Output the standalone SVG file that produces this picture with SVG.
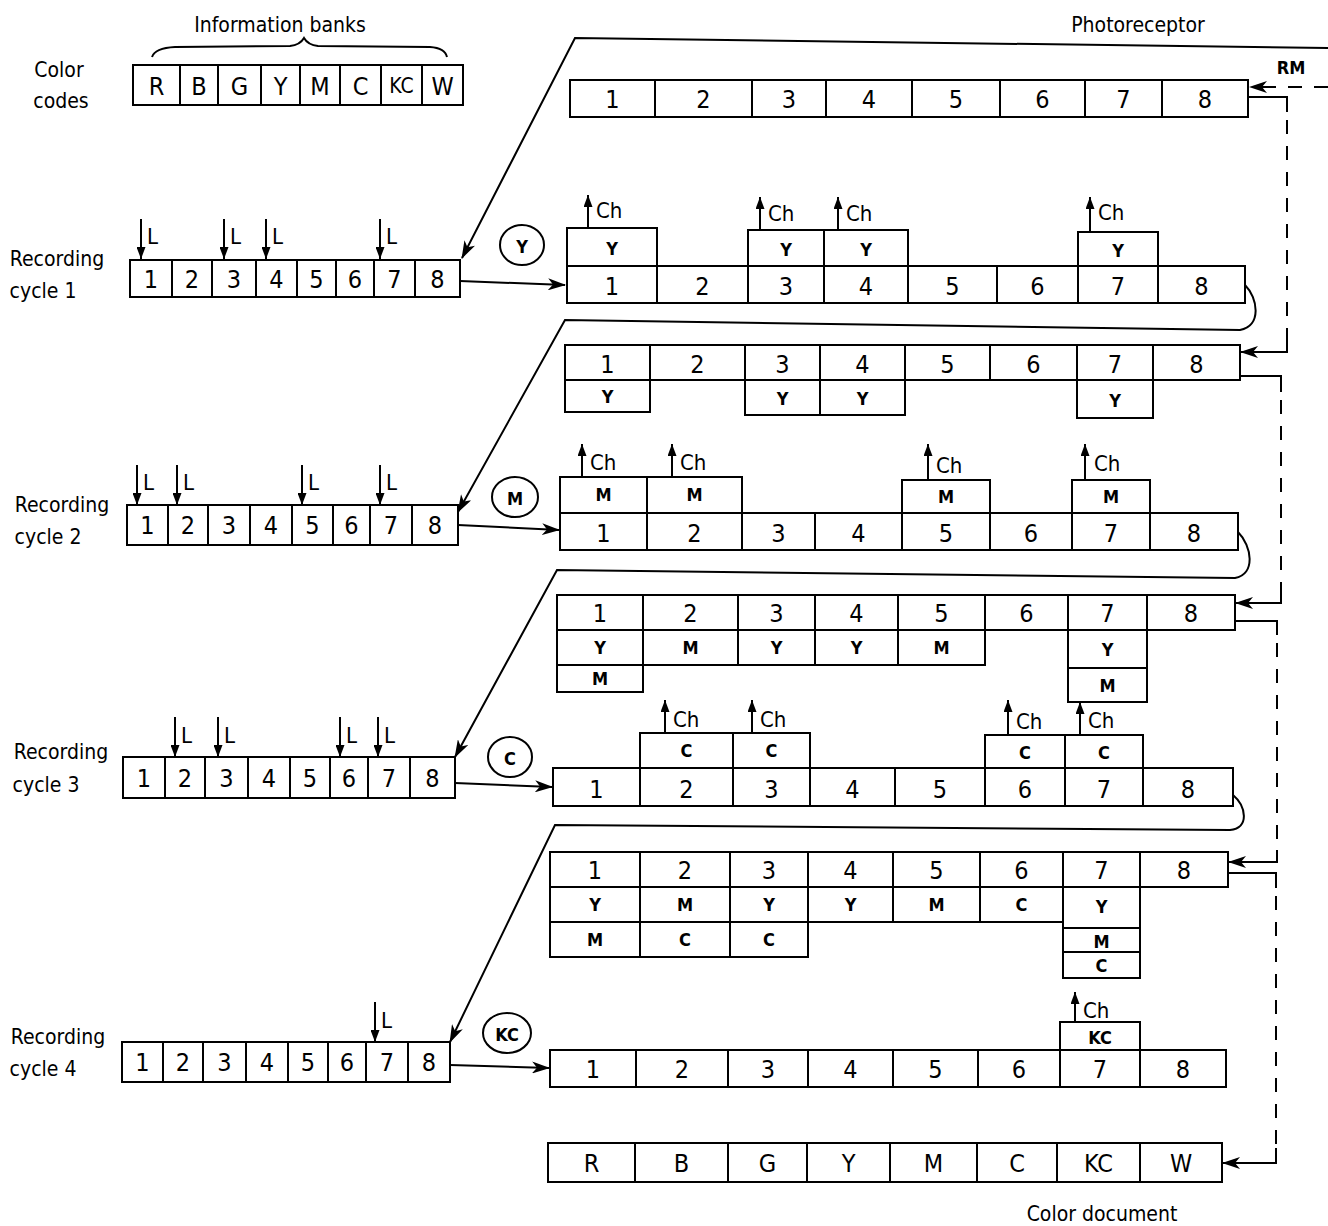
<svg xmlns="http://www.w3.org/2000/svg" width="1328" height="1226" viewBox="0 0 1328 1226">
<defs>
<style>
.b{fill:#fff;stroke:#000;stroke-width:2}
.dv{stroke:#000;stroke-width:2;fill:none}
.ln{stroke:#000;stroke-width:2;fill:none}
.dash{stroke:#000;stroke-width:2;fill:none;stroke-dasharray:14 12}
text{font-family:"DejaVu Sans Condensed","DejaVu Sans","Liberation Sans",sans-serif;font-stretch:condensed;fill:#000}
.n{font-size:25px;text-anchor:middle;dominant-baseline:central}
.s{font-size:18px;font-weight:bold;text-anchor:middle;dominant-baseline:central}
.lab{font-size:21px;text-anchor:middle}
.tag{font-size:22px;dominant-baseline:central}
.c{font-size:18px;font-weight:bold;text-anchor:middle;dominant-baseline:central}
.circ{fill:#fff;stroke:#000;stroke-width:2}
</style>
<marker id="ah" viewBox="0 0 18 12" refX="17" refY="6" markerWidth="18" markerHeight="12" markerUnits="userSpaceOnUse" orient="auto"><path d="M0,0 L18,6 L0,12 L5,6 z" fill="#000"/></marker>
<marker id="sm" viewBox="0 0 12 9" refX="12" refY="4.5" markerWidth="12" markerHeight="9" markerUnits="userSpaceOnUse" orient="auto"><path d="M0,0 L12,4.5 L0,9 z" fill="#000"/></marker>
</defs>
<rect width="1328" height="1226" fill="#fff"/>

<!-- Header labels -->
<g id="labels">
<text class="lab" x="280" y="32">Information banks</text>
<text class="lab" x="59" y="77">Color</text>
<text class="lab" x="61" y="108">codes</text>
<text class="lab" x="1138" y="32">Photoreceptor</text>
<text class="lab" x="1102" y="1221">Color document</text>
<text x="1291" y="74" style="font-size:18px;font-weight:bold;text-anchor:middle">RM</text>
<text class="lab" x="57" y="266">Recording</text>
<text class="lab" x="43" y="298">cycle 1</text>
<text class="lab" x="62" y="512">Recording</text>
<text class="lab" x="48" y="544">cycle 2</text>
<text class="lab" x="61" y="759">Recording</text>
<text class="lab" x="46" y="792">cycle 3</text>
<text class="lab" x="58" y="1044">Recording</text>
<text class="lab" x="43" y="1076">cycle 4</text>
</g>

<!-- Color codes bank -->
<g id="color-codes">
<path class="ln" d="M152,57 Q155,48 175,47 L290,46 Q300,45 304,38 Q308,45 318,46 L430,47 Q445,48 447,57"/>
<rect class="b" x="133" y="65" width="330" height="40"/>
<path class="dv" d="M180,65V105M218,65V105M261,65V105M300,65V105M340,65V105M381,65V105M422,65V105"/>
<text class="n" x="156.5" y="86">R</text><text class="n" x="199" y="86">B</text><text class="n" x="239.5" y="86">G</text><text class="n" x="280.5" y="86">Y</text><text class="n" x="320" y="86">M</text><text class="n" x="360.5" y="86">C</text><text class="n" x="401.5" y="86" style="font-size:21px">KC</text><text class="n" x="442.5" y="86">W</text>
</g>

<!-- Photoreceptor row -->
<g id="photoreceptor-row">
<rect class="b" x="570" y="80" width="678" height="37"/>
<path class="dv" d="M655,80V117M752,80V117M826,80V117M912,80V117M1000,80V117M1085,80V117M1162,80V117"/>
<text class="n" x="612.5" y="99">1</text><text class="n" x="703.5" y="99">2</text><text class="n" x="789" y="99">3</text><text class="n" x="869" y="99">4</text><text class="n" x="956" y="99">5</text><text class="n" x="1042.5" y="99">6</text><text class="n" x="1123.5" y="99">7</text><text class="n" x="1205" y="99">8</text>
</g>

<!-- Cycle 1 bank -->
<g id="bank-1">
<rect class="b" x="130" y="260" width="330" height="37"/>
<path class="dv" d="M172,260V297M212,260V297M256,260V297M297,260V297M336,260V297M374,260V297M415,260V297"/>
<text class="n" x="151" y="279">1</text><text class="n" x="192" y="279">2</text><text class="n" x="234" y="279">3</text><text class="n" x="276.5" y="279">4</text><text class="n" x="316.5" y="279">5</text><text class="n" x="355" y="279">6</text><text class="n" x="394.5" y="279">7</text><text class="n" x="437.5" y="279">8</text>
<path class="ln" marker-end="url(#sm)" d="M141,219V259"/><path class="ln" marker-end="url(#sm)" d="M224,219V259"/><path class="ln" marker-end="url(#sm)" d="M266,219V259"/><path class="ln" marker-end="url(#sm)" d="M380,219V259"/>
<text class="tag" x="147" y="236">L</text><text class="tag" x="230" y="236">L</text><text class="tag" x="272" y="236">L</text><text class="tag" x="386" y="236">L</text>
</g>
<g id="circle-Y"><ellipse class="circ" cx="522" cy="245" rx="22" ry="20"/><text class="c" x="522" y="246">Y</text></g>

<!-- Row 1b -->
<g id="row-1b">
<rect class="b" x="567" y="266" width="678" height="37"/>
<path class="dv" d="M657,266V303M748,266V303M824,266V303M908,266V303M997,266V303M1078,266V303M1158,266V303"/>
<text class="n" x="612" y="286">1</text><text class="n" x="702.5" y="286">2</text><text class="n" x="786" y="286">3</text><text class="n" x="866" y="286">4</text><text class="n" x="952.5" y="286">5</text><text class="n" x="1037.5" y="286">6</text><text class="n" x="1118" y="286">7</text><text class="n" x="1201.5" y="286">8</text>
<rect class="b" x="567" y="228" width="90" height="38"/><rect class="b" x="748" y="230" width="76" height="36"/><rect class="b" x="824" y="230" width="84" height="36"/><rect class="b" x="1078" y="232" width="80" height="34"/>
<text class="s" x="612" y="248">Y</text><text class="s" x="786" y="249">Y</text><text class="s" x="866" y="249">Y</text><text class="s" x="1118" y="250">Y</text>
<path class="ln" marker-end="url(#sm)" d="M588,228V195"/><path class="ln" marker-end="url(#sm)" d="M760,230V197"/><path class="ln" marker-end="url(#sm)" d="M838,230V197"/><path class="ln" marker-end="url(#sm)" d="M1090,232V197"/>
<text class="tag" x="596" y="210">Ch</text><text class="tag" x="768" y="213">Ch</text><text class="tag" x="846" y="213">Ch</text><text class="tag" x="1098" y="212">Ch</text>
</g>

<!-- Row 2a -->
<g id="row-2a">
<rect class="b" x="565" y="345" width="675" height="35"/>
<path class="dv" d="M650,345V380M745,345V380M820,345V380M905,345V380M990,345V380M1077,345V380M1153,345V380"/>
<text class="n" x="607.5" y="364">1</text><text class="n" x="697.5" y="364">2</text><text class="n" x="782.5" y="364">3</text><text class="n" x="862.5" y="364">4</text><text class="n" x="947.5" y="364">5</text><text class="n" x="1033.5" y="364">6</text><text class="n" x="1115" y="364">7</text><text class="n" x="1196.5" y="364">8</text>
<rect class="b" x="565" y="380" width="85" height="32"/><rect class="b" x="745" y="380" width="75" height="35"/><rect class="b" x="820" y="380" width="85" height="35"/><rect class="b" x="1077" y="380" width="76" height="38"/>
<text class="s" x="607.5" y="396">Y</text><text class="s" x="782.5" y="398">Y</text><text class="s" x="862.5" y="398">Y</text><text class="s" x="1115" y="400">Y</text>
</g>

<!-- Cycle 2 bank -->
<g id="bank-2">
<rect class="b" x="127" y="505" width="331" height="40"/>
<path class="dv" d="M168,505V545M208,505V545M250,505V545M292,505V545M333,505V545M370,505V545M412,505V545"/>
<text class="n" x="147.5" y="525">1</text><text class="n" x="188" y="525">2</text><text class="n" x="229" y="525">3</text><text class="n" x="271" y="525">4</text><text class="n" x="312.5" y="525">5</text><text class="n" x="351.5" y="525">6</text><text class="n" x="391" y="525">7</text><text class="n" x="435" y="525">8</text>
<path class="ln" marker-end="url(#sm)" d="M137,465V505"/><path class="ln" marker-end="url(#sm)" d="M177,465V505"/><path class="ln" marker-end="url(#sm)" d="M302,465V505"/><path class="ln" marker-end="url(#sm)" d="M380,465V505"/>
<text class="tag" x="143" y="482">L</text><text class="tag" x="183" y="482">L</text><text class="tag" x="308" y="482">L</text><text class="tag" x="386" y="482">L</text>
</g>
<g id="circle-M"><ellipse class="circ" cx="515" cy="497" rx="23" ry="20"/><text class="c" x="515" y="498">M</text></g>

<!-- Row 2b -->
<g id="row-2b">
<rect class="b" x="560" y="513" width="678" height="37"/>
<path class="dv" d="M647,513V550M742,513V550M815,513V550M902,513V550M990,513V550M1072,513V550M1150,513V550"/>
<text class="n" x="603.5" y="533">1</text><text class="n" x="694.5" y="533">2</text><text class="n" x="778.5" y="533">3</text><text class="n" x="858.5" y="533">4</text><text class="n" x="946" y="533">5</text><text class="n" x="1031" y="533">6</text><text class="n" x="1111" y="533">7</text><text class="n" x="1194" y="533">8</text>
<rect class="b" x="560" y="477" width="87" height="36"/><rect class="b" x="647" y="477" width="95" height="36"/><rect class="b" x="902" y="480" width="88" height="33"/><rect class="b" x="1072" y="480" width="78" height="33"/>
<text class="s" x="603.5" y="494">M</text><text class="s" x="694.5" y="494">M</text><text class="s" x="946" y="496">M</text><text class="s" x="1111" y="496">M</text>
<path class="ln" marker-end="url(#sm)" d="M582,477V444"/><path class="ln" marker-end="url(#sm)" d="M672,477V444"/><path class="ln" marker-end="url(#sm)" d="M928,480V444"/><path class="ln" marker-end="url(#sm)" d="M1085,480V444"/>
<text class="tag" x="590" y="462">Ch</text><text class="tag" x="680" y="462">Ch</text><text class="tag" x="936" y="465">Ch</text><text class="tag" x="1094" y="463">Ch</text>
</g>

<!-- Row 3a -->
<g id="row-3a">
<rect class="b" x="557" y="595" width="678" height="35"/>
<path class="dv" d="M643,595V630M738,595V630M815,595V630M898,595V630M985,595V630M1068,595V630M1147,595V630"/>
<text class="n" x="600" y="613">1</text><text class="n" x="690.5" y="613">2</text><text class="n" x="776.5" y="613">3</text><text class="n" x="856.5" y="613">4</text><text class="n" x="941.5" y="613">5</text><text class="n" x="1026.5" y="613">6</text><text class="n" x="1107.5" y="613">7</text><text class="n" x="1191" y="613">8</text>
<rect class="b" x="557" y="630" width="86" height="35"/><rect class="b" x="643" y="630" width="95" height="35"/><rect class="b" x="738" y="630" width="77" height="35"/><rect class="b" x="815" y="630" width="83" height="35"/><rect class="b" x="898" y="630" width="87" height="35"/><rect class="b" x="1068" y="630" width="79" height="38"/>
<rect class="b" x="557" y="665" width="86" height="27"/><rect class="b" x="1068" y="668" width="79" height="34"/>
<text class="s" x="600" y="647">Y</text><text class="s" x="690.5" y="647">M</text><text class="s" x="776.5" y="647">Y</text><text class="s" x="856.5" y="647">Y</text><text class="s" x="941.5" y="647">M</text><text class="s" x="1107.5" y="649">Y</text>
<text class="s" x="600" y="678">M</text><text class="s" x="1107.5" y="685">M</text>
</g>

<!-- Cycle 3 bank -->
<g id="bank-3">
<rect class="b" x="123" y="757" width="332" height="41"/>
<path class="dv" d="M165,757V798M205,757V798M248,757V798M290,757V798M330,757V798M368,757V798M410,757V798"/>
<text class="n" x="144" y="778">1</text><text class="n" x="185" y="778">2</text><text class="n" x="226.5" y="778">3</text><text class="n" x="269" y="778">4</text><text class="n" x="310" y="778">5</text><text class="n" x="349" y="778">6</text><text class="n" x="389" y="778">7</text><text class="n" x="432.5" y="778">8</text>
<path class="ln" marker-end="url(#sm)" d="M175,717V757"/><path class="ln" marker-end="url(#sm)" d="M218,717V757"/><path class="ln" marker-end="url(#sm)" d="M340,717V757"/><path class="ln" marker-end="url(#sm)" d="M378,717V757"/>
<text class="tag" x="181" y="735">L</text><text class="tag" x="224" y="735">L</text><text class="tag" x="346" y="735">L</text><text class="tag" x="384" y="735">L</text>
</g>
<g id="circle-C"><ellipse class="circ" cx="510" cy="757" rx="22" ry="20"/><text class="c" x="510" y="758">C</text></g>

<!-- Row 3b -->
<g id="row-3b">
<rect class="b" x="553" y="768" width="680" height="38"/>
<path class="dv" d="M640,768V806M733,768V806M810,768V806M895,768V806M985,768V806M1065,768V806M1143,768V806"/>
<text class="n" x="596.5" y="789">1</text><text class="n" x="686.5" y="789">2</text><text class="n" x="771.5" y="789">3</text><text class="n" x="852.5" y="789">4</text><text class="n" x="940" y="789">5</text><text class="n" x="1025" y="789">6</text><text class="n" x="1104" y="789">7</text><text class="n" x="1188" y="789">8</text>
<rect class="b" x="640" y="733" width="93" height="35"/><rect class="b" x="733" y="733" width="77" height="35"/><rect class="b" x="985" y="735" width="80" height="33"/><rect class="b" x="1065" y="735" width="78" height="33"/>
<text class="s" x="686.5" y="750">C</text><text class="s" x="771.5" y="750">C</text><text class="s" x="1025" y="752">C</text><text class="s" x="1104" y="752">C</text>
<path class="ln" marker-end="url(#sm)" d="M665,733V700"/><path class="ln" marker-end="url(#sm)" d="M752,733V700"/><path class="ln" marker-end="url(#sm)" d="M1008,735V700"/><path class="ln" marker-end="url(#sm)" d="M1080,735V702"/>
<text class="tag" x="673" y="719">Ch</text><text class="tag" x="760" y="719">Ch</text><text class="tag" x="1016" y="721">Ch</text><text class="tag" x="1088" y="720">Ch</text>
</g>

<!-- Row 4a -->
<g id="row-4a">
<rect class="b" x="550" y="852" width="678" height="35"/>
<path class="dv" d="M640,852V887M730,852V887M808,852V887M893,852V887M980,852V887M1063,852V887M1140,852V887"/>
<text class="n" x="595" y="870">1</text><text class="n" x="685" y="870">2</text><text class="n" x="769" y="870">3</text><text class="n" x="850.5" y="870">4</text><text class="n" x="936.5" y="870">5</text><text class="n" x="1021.5" y="870">6</text><text class="n" x="1101.5" y="870">7</text><text class="n" x="1184" y="870">8</text>
<rect class="b" x="550" y="887" width="90" height="35"/><rect class="b" x="640" y="887" width="90" height="35"/><rect class="b" x="730" y="887" width="78" height="35"/><rect class="b" x="808" y="887" width="85" height="35"/><rect class="b" x="893" y="887" width="87" height="35"/><rect class="b" x="980" y="887" width="83" height="35"/><rect class="b" x="1063" y="887" width="77" height="41"/>
<rect class="b" x="550" y="922" width="90" height="35"/><rect class="b" x="640" y="922" width="90" height="35"/><rect class="b" x="730" y="922" width="78" height="35"/><rect class="b" x="1063" y="928" width="77" height="24"/><rect class="b" x="1063" y="952" width="77" height="26"/>
<text class="s" x="595" y="904">Y</text><text class="s" x="685" y="904">M</text><text class="s" x="769" y="904">Y</text><text class="s" x="850.5" y="904">Y</text><text class="s" x="936.5" y="904">M</text><text class="s" x="1021.5" y="904">C</text><text class="s" x="1101.5" y="906">Y</text>
<text class="s" x="595" y="939">M</text><text class="s" x="685" y="939">C</text><text class="s" x="769" y="939">C</text><text class="s" x="1101.5" y="941">M</text><text class="s" x="1101.5" y="965">C</text>
</g>

<!-- Cycle 4 bank -->
<g id="bank-4">
<rect class="b" x="122" y="1042" width="328" height="40"/>
<path class="dv" d="M163,1042V1082M203,1042V1082M246,1042V1082M288,1042V1082M328,1042V1082M366,1042V1082M408,1042V1082"/>
<text class="n" x="142.5" y="1062">1</text><text class="n" x="183" y="1062">2</text><text class="n" x="224.5" y="1062">3</text><text class="n" x="267" y="1062">4</text><text class="n" x="308" y="1062">5</text><text class="n" x="347" y="1062">6</text><text class="n" x="387" y="1062">7</text><text class="n" x="429" y="1062">8</text>
<path class="ln" marker-end="url(#sm)" d="M375,1002V1042"/>
<text class="tag" x="381" y="1020">L</text>
</g>
<g id="circle-KC"><ellipse class="circ" cx="507" cy="1033" rx="24" ry="20"/><text class="c" x="507" y="1034">KC</text></g>

<!-- Row 4b -->
<g id="row-4b">
<rect class="b" x="550" y="1050" width="676" height="37"/>
<path class="dv" d="M636,1050V1087M728,1050V1087M808,1050V1087M893,1050V1087M978,1050V1087M1060,1050V1087M1140,1050V1087"/>
<text class="n" x="593" y="1069">1</text><text class="n" x="682" y="1069">2</text><text class="n" x="768" y="1069">3</text><text class="n" x="850.5" y="1069">4</text><text class="n" x="935.5" y="1069">5</text><text class="n" x="1019" y="1069">6</text><text class="n" x="1100" y="1069">7</text><text class="n" x="1183" y="1069">8</text>
<rect class="b" x="1060" y="1022" width="80" height="28"/>
<text class="s" x="1100" y="1037">KC</text>
<path class="ln" marker-end="url(#sm)" d="M1075,1022V992"/>
<text class="tag" x="1083" y="1010">Ch</text>
</g>

<!-- Color document -->
<g id="color-document">
<rect class="b" x="548" y="1143" width="674" height="39"/>
<path class="dv" d="M635,1143V1182M728,1143V1182M807,1143V1182M890,1143V1182M977,1143V1182M1057,1143V1182M1140,1143V1182"/>
<text class="n" x="591.5" y="1163">R</text><text class="n" x="681.5" y="1163">B</text><text class="n" x="767.5" y="1163">G</text><text class="n" x="848.5" y="1163">Y</text><text class="n" x="933.5" y="1163">M</text><text class="n" x="1017" y="1163">C</text><text class="n" x="1098.5" y="1163">KC</text><text class="n" x="1181" y="1163">W</text>
</g>

<!-- Connectors -->
<g id="connectors">
<path class="ln" d="M1328,48 L575,38 L462,258" marker-end="url(#ah)"/>
<path class="ln" d="M1245,285 C1258,298 1262,326 1240,330 L565,320 L458,512" marker-end="url(#ah)"/>
<path class="ln" d="M1238,532 C1252,546 1256,574 1235,578 L557,570 L455,757" marker-end="url(#ah)"/>
<path class="ln" d="M1233,795 C1246,806 1250,828 1230,830 L555,825 L450,1042" marker-end="url(#ah)"/>
<path class="ln" d="M460,281 L565,285" marker-end="url(#ah)"/>
<path class="ln" d="M458,525 L559,530" marker-end="url(#ah)"/>
<path class="ln" d="M455,783 L552,787" marker-end="url(#ah)"/>
<path class="ln" d="M450,1065 L549,1068" marker-end="url(#ah)"/>
<path class="dash" d="M1328,87 H1250" marker-end="url(#ah)"/>
<path class="ln" d="M1248,97 H1287 V112"/>
<path class="dash" d="M1287,120 V340"/>
<path class="ln" d="M1287,340 V352 H1241" marker-end="url(#ah)"/>
<path class="ln" d="M1240,376 H1281 V392"/>
<path class="dash" d="M1281,400 V590"/>
<path class="ln" d="M1281,590 V603 H1236" marker-end="url(#ah)"/>
<path class="ln" d="M1235,621 H1277 V635"/>
<path class="dash" d="M1277,643 V850"/>
<path class="ln" d="M1277,850 V862 H1229" marker-end="url(#ah)"/>
<path class="ln" d="M1228,873 H1276 V888"/>
<path class="dash" d="M1276,896 V1148"/>
<path class="ln" d="M1276,1148 V1163 H1223" marker-end="url(#ah)"/>
</g>
</svg>
